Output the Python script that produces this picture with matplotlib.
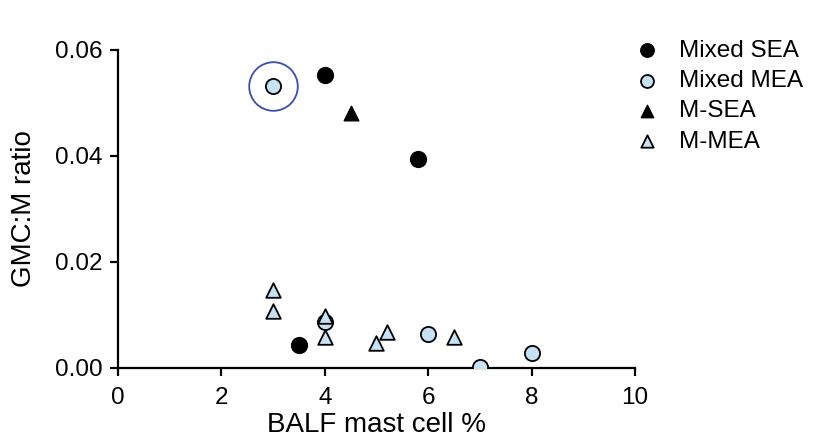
import matplotlib
matplotlib.use("Agg")
import matplotlib.pyplot as plt

plt.rcParams['font.family'] = ['Liberation Sans', 'DejaVu Sans']

mixed_sea_x = [4.0, 5.8, 3.5]
mixed_sea_y = [0.0552, 0.0394, 0.0043]
mixed_mea_x = [3.0, 4.0, 6.0, 7.0, 8.0]
mixed_mea_y = [0.0532, 0.0087, 0.0064, 0.0002, 0.0028]
m_sea_x = [4.5]
m_sea_y = [0.0481]
m_mea_x = [3.0, 3.0, 4.0, 4.0, 5.0, 5.2, 6.5]
m_mea_y = [0.0147, 0.0108, 0.0098, 0.0058, 0.0047, 0.0068, 0.0058]
highlight_x = [3.0]
highlight_y = [0.0532]

light = '#C6E0F4'
fig = plt.figure(figsize=(8.17, 4.46), dpi=100)
ax = fig.add_axes([0.1444, 0.1749, 0.6328, 0.7130])

ax.scatter(mixed_sea_x, mixed_sea_y, s=130, marker='o', color='black', label='Mixed SEA', zorder=3)
ax.scatter(mixed_mea_x, mixed_mea_y, s=120, marker='o', facecolor=light, edgecolor='black', linewidths=1.3, label='Mixed MEA', zorder=3)
ax.scatter(m_sea_x, m_sea_y, s=110, marker='^', color='black', label='M-SEA', zorder=3)
ax.scatter(m_mea_x, m_mea_y, s=110, marker='^', facecolor=light, edgecolor='black', linewidths=1.3, label='M-MEA', zorder=3)
ax.plot(highlight_x, highlight_y, marker='o', markersize=35, markerfacecolor='none',
        markeredgecolor='#3C4DB5', markeredgewidth=1.3, linestyle='none', zorder=2)

ax.set_xlim(0, 10)
ax.set_ylim(0, 0.06)
ax.set_xticks([0, 2, 4, 6, 8, 10])
ax.set_yticks([0.0, 0.02, 0.04, 0.06])
ax.set_yticklabels(['0.00', '0.02', '0.04', '0.06'])
for s in ['top', 'right']:
    ax.spines[s].set_visible(False)
for s in ['left', 'bottom']:
    ax.spines[s].set_linewidth(1.6)
ax.tick_params(direction='out', length=6, width=1.6, labelsize=17.5, pad=5)
ax.tick_params(axis='x', pad=8)
for lab in ax.get_xticklabels() + ax.get_yticklabels():
    lab.set_clip_on(False)
ax.set_xlabel('BALF mast cell %', fontsize=20, labelpad=2)
ax.set_ylabel('GMC:M ratio', fontsize=20, labelpad=13)

leg = ax.legend(loc='upper left', bbox_to_anchor=(0.958, 1.078), frameon=False, fontsize=17.5,
                handletextpad=0.5, labelspacing=0.34, markerscale=0.85, borderaxespad=0.2,
                handlelength=1.6)

fig.savefig('out.png', dpi=100)
